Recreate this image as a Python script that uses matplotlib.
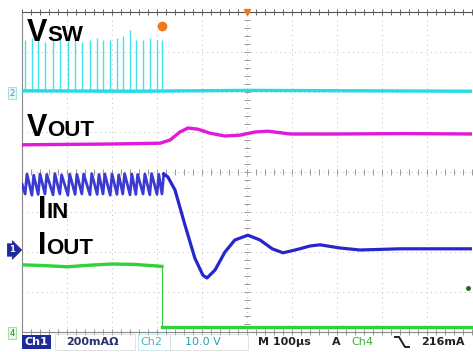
import numpy as np
import matplotlib
matplotlib.use("Agg")
import matplotlib.pyplot as plt
from matplotlib.lines import Line2D
from matplotlib.patches import Rectangle

W, H = 473, 352

# scope data: time in us (10 div x 100us), amplitude in divisions
sw_times = [7, 22, 36, 51, 69, 84, 102, 118, 133, 151, 167, 180, 196, 211, 224, 240, 253, 269, 284, 300, 311]
sw_tops = [3.30, 3.35, 3.30, 3.25, 3.30, 3.35, 3.30, 3.30, 3.25, 3.30, 3.35, 3.30, 3.30, 3.35, 3.40,
           3.55, 3.30, 3.30, 3.35, 3.30, 3.30]
vsw_t = [0, 250, 500, 750, 1000]
vsw_v = [2.03, 2.02, 2.04, 2.03, 2.02]

vout_t = [0, 100, 200, 307, 329, 351, 369, 391, 418, 451, 484, 518, 547, 596, 700, 850, 1000]
vout_v = [0.68, 0.69, 0.70, 0.72, 0.80, 1.00, 1.10, 1.07, 0.97, 0.90, 0.92, 1.00, 1.02, 0.95, 0.95, 0.96, 0.95]

iin_peak = [-0.05, -0.08, -0.05, -0.06, -0.04, -0.07, -0.05, -0.06, -0.05, -0.04, -0.06, -0.05,
            -0.05, -0.07, -0.04, -0.05, -0.06, -0.05, -0.04, -0.06, -0.05]
iin_valley = [-0.55, -0.58, -0.56, -0.55, -0.57, -0.55, -0.58, -0.56, -0.55, -0.57, -0.56, -0.55,
              -0.58, -0.56, -0.55, -0.57, -0.56, -0.55, -0.57, -0.56, -0.55]
iin_t = [324, 340, 362, 384, 402, 411, 429, 451, 473, 502, 529, 556, 580, 607, 640, 662, 707, 751, 840, 1000]
iin_v = [-0.12, -0.45, -1.32, -2.15, -2.58, -2.65, -2.45, -2.00, -1.70, -1.58, -1.70, -1.92, -2.02,
         -1.95, -1.85, -1.82, -1.90, -1.95, -1.92, -1.92]

iout_t = [0, 50, 100, 150, 200, 250, 300, 311, 311, 1000]
iout_v = [-2.32, -2.34, -2.37, -2.33, -2.30, -2.31, -2.35, -2.36, -3.88, -3.88]

CYAN = "#22dde8"
MAGENTA = "#e01ad8"
BLUE = "#2626cc"
GREEN = "#2ed23a"
ORANGE = "#f07a1a"

fig = plt.figure(figsize=(W / 100, H / 100), dpi=100)
ax = fig.add_axes([22 / W, (H - 332) / H, 450 / W, 320 / H])
ax.set_xlim(0, 1000)
ax.set_ylim(-4, 4)
ax.set_xticks([])
ax.set_yticks([])
for s in ax.spines.values():
    s.set_color("#888888")
    s.set_linewidth(0.8)
ax.spines["top"].set_color("#555555")
ax.spines["right"].set_visible(False)

# graticule
for gx in range(100, 1000, 100):
    ax.axvline(gx, color="#bbbbbb", lw=0.7, ls=(0, (1, 4)), zorder=0)
for gy in range(-3, 4):
    ax.axhline(gy, color="#bbbbbb", lw=0.7, ls=(0, (1, 4)), zorder=0)
ticks_x = np.arange(0, 1001, 20)
ticks_y = np.arange(-4, 4.01, 0.2)
ax.plot(ticks_x, np.zeros_like(ticks_x), ls="none", marker="|", ms=4, color="#999999", mew=0.7, zorder=0)
ax.plot(np.full_like(ticks_y, 500), ticks_y, ls="none", marker="_", ms=4, color="#999999", mew=0.7, zorder=0)
ax.plot(ticks_x, np.full_like(ticks_x, 4.0), ls="none", marker="|", ms=4, color="#666666", mew=0.7,
        zorder=0, clip_on=False)
ax.plot(ticks_x, np.full_like(ticks_x, -4.0), ls="none", marker="|", ms=4, color="#999999", mew=0.7,
        zorder=0, clip_on=False)

# Vsw
ax.vlines(sw_times, vsw_v[0], sw_tops, color=CYAN, lw=1.0, alpha=0.85, zorder=2)
ax.plot(vsw_t, vsw_v, color=CYAN, lw=2.4, zorder=3)

# Vout
ax.plot(vout_t, vout_v, color=MAGENTA, lw=2.4, zorder=3)

# Iin: ripple before the step, transient after
rip_t, rip_v = [], []
for i, t in enumerate(sw_times):
    rip_t += [t, t + 4]
    rip_v += [iin_valley[i], iin_peak[i]]
ax.plot([0] + rip_t, [-0.3] + rip_v, color=BLUE, lw=2.0, alpha=0.9, zorder=3)
ax.plot(rip_t[-1:] + iin_t, rip_v[-1:] + iin_v, color=BLUE, lw=2.3, zorder=3)

# Iout
ax.plot(iout_t[:8], iout_v[:8], color=GREEN, lw=2.4, zorder=3)
ax.plot(iout_t[7:9], iout_v[7:9], color=GREEN, lw=0.8, zorder=3)
ax.plot(iout_t[8:], iout_v[8:], color=GREEN, lw=2.4, zorder=3, clip_on=False)

# trigger marks
ax.plot([311], [3.65], marker="o", ms=6, color=ORANGE, zorder=4)
ax.plot([500], [4.0], marker="v", ms=4, color=ORANGE, zorder=4, clip_on=False)
ax.plot([990], [-2.9], marker="o", ms=2.5, color="#1a6a1a", zorder=4, clip_on=False)


def fpos(x, y):
    return x / W, 1 - y / H


# channel ground markers at left
fig.text(*fpos(12, 93), "2", fontsize=6, color="#3a9ab0", ha="center", va="center",
         bbox=dict(boxstyle="square,pad=0.15", fc="#e6f8fa", ec="#9adbe4", lw=0.6))
fig.text(*fpos(12, 250), "1", fontsize=6, color="white", weight="bold", ha="center", va="center",
         bbox=dict(boxstyle="rarrow,pad=0.2", fc="#1e2a9a", ec="#1e2a9a", lw=0.6))
fig.text(*fpos(12, 333), "4", fontsize=6, color="#2a8a2a", ha="center", va="center",
         bbox=dict(boxstyle="square,pad=0.15", fc="#e8f8e8", ec="#9ad89a", lw=0.6))

# signal labels
fig.canvas.draw()
rend = fig.canvas.get_renderer()


def label(x, y, big, small, s1=22, s2=16):
    t1 = fig.text(*fpos(x, y), big, fontsize=s1, weight="bold", family="Liberation Sans",
                  va="baseline", ha="left", zorder=5)
    bb = t1.get_window_extent(renderer=rend)
    fig.text(bb.x1 / W, 1 - y / H, small, fontsize=s2, weight="bold", family="Liberation Sans",
             va="baseline", ha="left", zorder=5)


label(27, 41, "V", "SW")
label(27, 136, "V", "OUT")
label(38, 218, "I", "IN")
label(38, 254, "I", "OUT")

# status bar
sb_y = 342
fig.patches.append(Rectangle(fpos(22, 349), 29 / W, 14 / H, transform=fig.transFigure,
                             fc="#1e2a9a", ec="none"))
fig.text(*fpos(36, sb_y), "Ch1", fontsize=8, weight="bold", color="white", ha="center", va="center")
fig.patches.append(Rectangle(fpos(55, 350), 80 / W, 16 / H, transform=fig.transFigure,
                             fc="none", ec="#dddddd", lw=0.6))
fig.text(*fpos(66, sb_y), "200mA\u03a9", fontsize=8, weight="bold", color="#26306a", ha="left", va="center")
fig.patches.append(Rectangle(fpos(138, 350), 32 / W, 16 / H, transform=fig.transFigure,
                             fc="none", ec="#bfe8ec", lw=0.6))
fig.text(*fpos(140, sb_y), "Ch2", fontsize=8, color="#40b8c8", ha="left", va="center")
fig.patches.append(Rectangle(fpos(170, 350), 78 / W, 16 / H, transform=fig.transFigure,
                             fc="none", ec="#dddddd", lw=0.6))
fig.text(*fpos(185, sb_y), "10.0 V", fontsize=8, color="#2aa0b0", ha="left", va="center")
fig.text(*fpos(258, sb_y), "M 100\u00b5s", fontsize=8, weight="bold", color="#222222", ha="left", va="center")
fig.text(*fpos(332, sb_y), "A", fontsize=8, weight="bold", color="#222222", ha="left", va="center")
fig.text(*fpos(351, sb_y), "Ch4", fontsize=8, color="#38b038", ha="left", va="center")
fig.lines.append(Line2D([395 / W, 399 / W, 405 / W, 409 / W],
                        [1 - 337 / H, 1 - 337 / H, 1 - 347 / H, 1 - 347 / H],
                        transform=fig.transFigure, color="#222222", lw=1.4))
fig.text(*fpos(421, sb_y), "216mA", fontsize=8, weight="bold", color="#222222", ha="left", va="center")

fig.savefig("out.png", dpi=100)
